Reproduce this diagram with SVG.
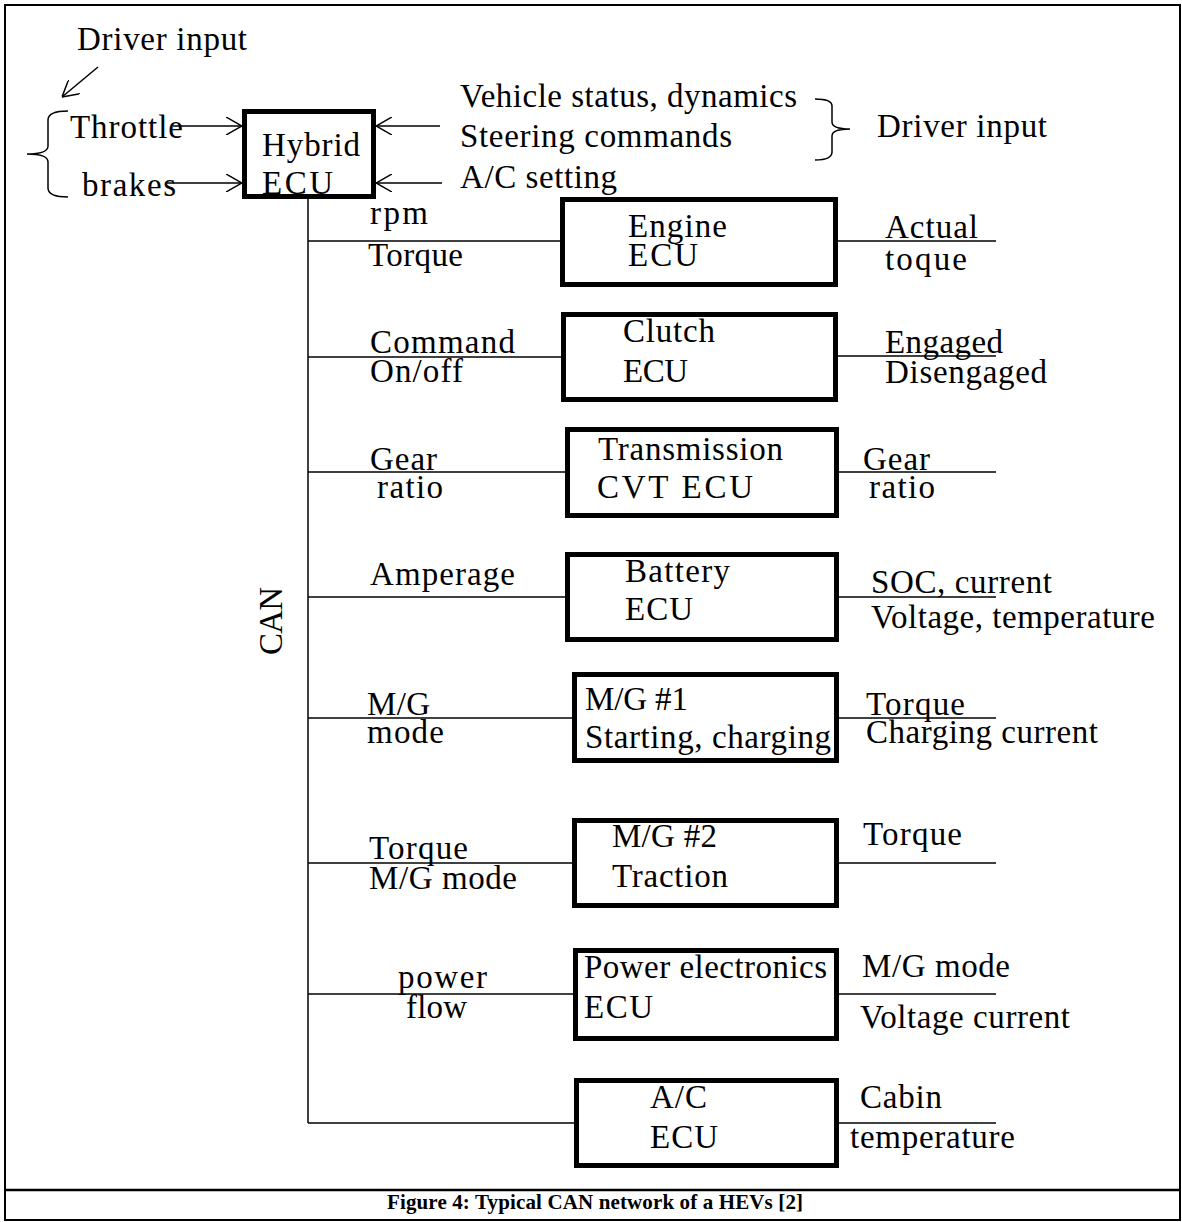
<svg xmlns="http://www.w3.org/2000/svg" width="1182" height="1222" viewBox="0 0 1182 1222">
<style>
  text { font-family: "Liberation Serif", "Times New Roman", serif; font-size: 33px; fill: #000; }
  .cap { font-size: 21px; font-weight: bold; }
  .box { fill: #fff; stroke: #000; stroke-width: 5; }
  .ln { stroke: #000; stroke-width: 1.5; fill: none; }
  .border { stroke: #000; stroke-width: 2; fill: none; }
</style>
<defs>
  <marker id="arr" viewBox="0 0 16 18" refX="16" refY="9" markerWidth="16" markerHeight="18" markerUnits="userSpaceOnUse" orient="auto">
    <path d="M0,0 L16,9 L0,18" fill="none" stroke="#000" stroke-width="1.5"/>
  </marker>
</defs>
<rect width="1182" height="1222" fill="#fff"/>
<g id="frame">
  <rect class="border" x="5" y="5" width="1175" height="1215"/>
  <line class="border" x1="5" y1="1190" x2="1180" y2="1190" style="stroke-width:2.5"/>
  <text class="cap" x="387" y="1209" textLength="416">Figure 4: Typical CAN network of a HEVs [2]</text>
</g>

<g id="connectors">
  <line class="ln" x1="98" y1="67" x2="62" y2="97" marker-end="url(#arr)"/>
  <line class="ln" x1="173" y1="126" x2="242" y2="126" marker-end="url(#arr)"/>
  <line class="ln" x1="167" y1="183" x2="242" y2="183" marker-end="url(#arr)"/>
  <line class="ln" x1="440" y1="126" x2="376" y2="126" marker-end="url(#arr)"/>
  <line class="ln" x1="442" y1="183" x2="376" y2="183" marker-end="url(#arr)"/>
  <path class="ln" d="M68,111 Q48,111 48,120 L48,146 Q48,154 27,154 Q48,154 48,162 L48,188 Q48,197 68,197"/>
  <path class="ln" d="M815,99 Q832,99 832,106 L832,122 Q832,129 850,129 Q832,129 832,136 L832,152 Q832,160 815,160"/>
  <line class="ln" x1="308" y1="198" x2="308" y2="1123"/>
  <line class="ln" x1="308" y1="241" x2="561" y2="241"/>
  <line class="ln" x1="308" y1="357" x2="562" y2="357"/>
  <line class="ln" x1="308" y1="472" x2="566" y2="472"/>
  <line class="ln" x1="308" y1="597" x2="566" y2="597"/>
  <line class="ln" x1="308" y1="718" x2="573" y2="718"/>
  <line class="ln" x1="308" y1="863" x2="573" y2="863"/>
  <line class="ln" x1="308" y1="994" x2="574" y2="994"/>
  <line class="ln" x1="308" y1="1123" x2="575" y2="1123"/>
  <line class="ln" x1="837" y1="241" x2="996" y2="241"/>
  <line class="ln" x1="837" y1="356" x2="996" y2="356"/>
  <line class="ln" x1="838" y1="472" x2="996" y2="472"/>
  <line class="ln" x1="838" y1="597" x2="996" y2="597"/>
  <line class="ln" x1="838" y1="718" x2="996" y2="718"/>
  <line class="ln" x1="838" y1="863" x2="996" y2="863"/>
  <line class="ln" x1="838" y1="994" x2="996" y2="994"/>
  <line class="ln" x1="838" y1="1123" x2="996" y2="1123"/>
</g>

<g id="labels">
  <text x="77" y="50" textLength="170">Driver input</text>
  <text x="70" y="138" textLength="113">Throttle</text>
  <text x="82" y="196" textLength="94">brakes</text>
  <text x="460" y="107" textLength="337">Vehicle status, dynamics</text>
  <text x="460" y="147" textLength="272">Steering commands</text>
  <text x="460" y="188" textLength="157">A/C setting</text>
  <text x="877" y="137" textLength="170">Driver input</text>
  <text transform="translate(282,655) rotate(-90)" textLength="68">CAN</text>

  <text x="370" y="224" textLength="58">rpm</text>
  <text x="368" y="266" textLength="95">Torque</text>
  <text x="885" y="238" textLength="93">Actual</text>
  <text x="885" y="270" textLength="82">toque</text>

  <text x="370" y="353" textLength="145">Command</text>
  <text x="370" y="382" textLength="93">On/off</text>
  <text x="885" y="353" textLength="118">Engaged</text>
  <text x="885" y="383" textLength="162">Disengaged</text>

  <text x="370" y="470" textLength="67">Gear</text>
  <text x="377" y="498" textLength="66">ratio</text>
  <text x="863" y="470" textLength="67">Gear</text>
  <text x="869" y="498" textLength="66">ratio</text>

  <text x="370" y="585" textLength="145">Amperage</text>
  <text x="871" y="593" textLength="181">SOC, current</text>
  <text x="871" y="628" textLength="284">Voltage, temperature</text>

  <text x="367" y="715" textLength="63">M/G</text>
  <text x="367" y="743" textLength="77">mode</text>
  <text x="866" y="715" textLength="99">Torque</text>
  <text x="866" y="743" textLength="232">Charging current</text>

  <text x="369" y="859" textLength="99">Torque</text>
  <text x="369" y="889" textLength="148">M/G mode</text>
  <text x="863" y="845" textLength="99">Torque</text>

  <text x="398" y="988" textLength="89">power</text>
  <text x="406" y="1018" textLength="61">flow</text>
  <text x="862" y="977" textLength="148">M/G mode</text>
  <text x="860" y="1028" textLength="210">Voltage current</text>

  <text x="860" y="1108" textLength="82">Cabin</text>
  <text x="850" y="1148" textLength="165">temperature</text>
</g>

<g id="hybrid-ecu">
  <rect class="box" x="244.5" y="111.5" width="129" height="85"/>
  <text x="262" y="156" textLength="98">Hybrid</text>
  <text x="262" y="194" textLength="71">ECU</text>
</g>
<g id="engine-ecu">
  <rect class="box" x="562.5" y="199.5" width="273" height="85"/>
  <text x="628" y="237" textLength="99">Engine</text>
  <text x="628" y="266" textLength="70">ECU</text>
</g>
<g id="clutch-ecu">
  <rect class="box" x="563.5" y="314.5" width="272" height="85"/>
  <text x="623" y="342" textLength="92">Clutch</text>
  <text x="623" y="382" textLength="65">ECU</text>
</g>
<g id="transmission-ecu">
  <rect class="box" x="567.5" y="429.5" width="269" height="86"/>
  <text x="598" y="460" textLength="185">Transmission</text>
  <text x="597" y="498" textLength="156">CVT ECU</text>
</g>
<g id="battery-ecu">
  <rect class="box" x="567.5" y="554.5" width="269" height="85"/>
  <text x="625" y="582" textLength="105">Battery</text>
  <text x="625" y="620" textLength="68">ECU</text>
</g>
<g id="mg1-ecu">
  <rect class="box" x="574.5" y="674.5" width="262" height="86"/>
  <text x="585" y="710" textLength="103">M/G #1</text>
  <text x="585" y="748" textLength="246">Starting, charging</text>
</g>
<g id="mg2-ecu">
  <rect class="box" x="574.5" y="820.5" width="262" height="85"/>
  <text x="612" y="847" textLength="105">M/G #2</text>
  <text x="612" y="887" textLength="116">Traction</text>
</g>
<g id="power-electronics-ecu">
  <rect class="box" x="575.5" y="950.5" width="261" height="88"/>
  <text x="584" y="978" textLength="243">Power electronics</text>
  <text x="584" y="1018" textLength="69">ECU</text>
</g>
<g id="ac-ecu">
  <rect class="box" x="576.5" y="1080.5" width="260" height="85"/>
  <text x="650" y="1108" textLength="57">A/C</text>
  <text x="650" y="1148" textLength="68">ECU</text>
</g>
</svg>
